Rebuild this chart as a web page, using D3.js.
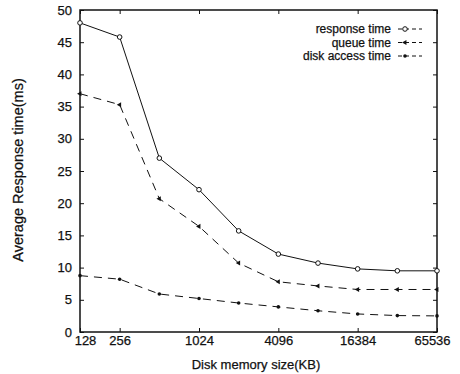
<!DOCTYPE html>
<html>
<head>
<meta charset="utf-8">
<script src="https://cdn.jsdelivr.net/npm/d3@7"></script>
<style>
body { margin: 0; background: #fff; }
text { font-family: "Liberation Sans", Arial, sans-serif; fill: #111; stroke: #111; stroke-width: 0.25px; }
</style>
</head>
<body>
<script>
// disk memory sizes (KB)
const sizes = [128, 256, 512, 1024, 2048, 4096, 8192, 16384, 32768, 65536];
const responseTime = [48.0, 45.8, 27.0, 22.1, 15.7, 12.1, 10.7, 9.8, 9.5, 9.5];
const queueTime = [37.0, 35.3, 20.7, 16.4, 10.7, 7.8, 7.15, 6.6, 6.6, 6.6];
const diskTime = [8.75, 8.2, 5.9, 5.2, 4.5, 3.9, 3.3, 2.8, 2.55, 2.5];
const xTicks = [128, 256, 1024, 4096, 16384, 65536];
const yTicks = [0, 5, 10, 15, 20, 25, 30, 35, 40, 45, 50];

const series = [
	{name: "response time", values: responseTime, dash: null, marker: "circle"},
	{name: "queue time", values: queueTime, dash: "8,6", marker: "tri"},
	{name: "disk access time", values: diskTime, dash: "8,6", marker: "dot"}
];

const width = 460, height = 374;
const margin = {left: 80, right: 23, top: 10, bottom: 42};

const svg = d3.select("body").append("svg")
	.attr("width", width)
	.attr("height", height);

const x = d3.scaleLog().base(2)
	.domain([128, 65536])
	.range([margin.left, width - margin.right]);
const y = d3.scaleLinear()
	.domain([0, 50])
	.range([height - margin.bottom, margin.top]);

// frame
svg.append("rect")
	.attr("x", x.range()[0]).attr("y", y.range()[1])
	.attr("width", x.range()[1] - x.range()[0])
	.attr("height", y.range()[0] - y.range()[1])
	.attr("fill", "none").attr("stroke", "#111").attr("stroke-width", 1.5);

// axes, ticks point inward
const xAxis = svg.append("g")
	.attr("transform", `translate(0,${y(0)})`)
	.call(d3.axisBottom(x).tickValues(xTicks).tickFormat(d3.format("d")).tickSizeInner(-4).tickSizeOuter(0).tickPadding(4));
const xTop = svg.append("g")
	.attr("transform", `translate(0,${y(50)})`)
	.call(d3.axisTop(x).tickValues(xTicks).tickFormat("").tickSizeInner(-4).tickSizeOuter(0));
const yAxis = svg.append("g")
	.attr("transform", `translate(${x(128)},0)`)
	.call(d3.axisLeft(y).tickValues(yTicks).tickSizeInner(-4).tickSizeOuter(0).tickPadding(8));
const yRight = svg.append("g")
	.attr("transform", `translate(${x(65536)},0)`)
	.call(d3.axisRight(y).tickValues(yTicks).tickFormat("").tickSizeInner(-4).tickSizeOuter(0));

[xAxis, xTop, yAxis, yRight].forEach(g => {
	g.select(".domain").remove();
	g.selectAll("line").attr("stroke", "#111");
	g.selectAll("text").style("font-size", "13px").style("font-family", "Liberation Sans, Arial, sans-serif").attr("fill", "#111");
});

// end labels sit a little inside, like the original
xAxis.selectAll(".tick text")
	.attr("dx", d => d == 128 ? 5 : d == 65536 ? -5 : 0);

// axis titles
svg.append("text")
	.attr("x", 256)
	.attr("y", 369)
	.attr("text-anchor", "middle")
	.style("font-size", "13px")
	.text("Disk memory size(KB)");
svg.append("text")
	.attr("transform", `translate(23,170) rotate(-90)`)
	.attr("text-anchor", "middle")
	.style("font-size", "14.5px")
	.text("Average Response time(ms)");

const line = d3.line()
	.x((d, i) => x(sizes[i]))
	.y(d => y(d));

function drawMarker(g, kind, cx, cy) {
	if (kind == "circle") {
		g.append("circle").attr("cx", cx).attr("cy", cy).attr("r", 2.3)
			.attr("fill", "#fff").attr("stroke", "#111").attr("stroke-width", 1);
	} else if (kind == "tri") {
		g.append("path")
			.attr("d", d3.symbol().type(d3.symbolTriangle).size(11)())
			.attr("transform", `translate(${cx},${cy}) rotate(-90)`)
			.attr("fill", "#111");
	} else {
		g.append("circle").attr("cx", cx).attr("cy", cy).attr("r", 1.8)
			.attr("fill", "#111");
	}
}

series.forEach(s => {
	const g = svg.append("g");
	g.append("path")
		.datum(s.values)
		.attr("d", line)
		.attr("fill", "none")
		.attr("stroke", "#111")
		.attr("stroke-width", 1)
		.attr("stroke-dasharray", s.dash);
	s.values.forEach((v, i) => drawMarker(g, s.marker, x(sizes[i]), y(v)));
});

// legend
const legend = svg.append("g");
series.forEach((s, i) => {
	const ly = 29 + i * 13.5;
	legend.append("text")
		.attr("x", 391).attr("y", ly + 4)
		.attr("text-anchor", "end")
		.style("font-size", "12px")
		.text(s.name);
	legend.append("line")
		.attr("x1", 398).attr("x2", 422)
		.attr("y1", ly).attr("y2", ly)
		.attr("stroke", "#111").attr("stroke-width", 1)
		.attr("stroke-dasharray", "4,3");
	drawMarker(legend, s.marker, 405, ly);
});
</script>
</body>
</html>
